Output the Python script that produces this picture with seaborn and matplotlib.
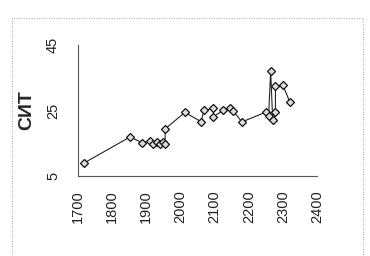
import pandas as pd
import seaborn as sns
import matplotlib.pyplot as plt
from matplotlib.patches import Rectangle

# ---------- data ----------
years = [1718, 1852, 1887, 1911, 1920, 1931, 1940, 1950, 1955, 1955,
         2013, 2060, 2069, 2096, 2096, 2125, 2146, 2155, 2180,
         2250, 2258, 2264, 2270, 2278, 2278, 2300, 2320]
cit = [9.0, 16.9, 15.2, 15.7, 14.8, 15.4, 14.8, 15.4, 14.8, 19.4,
       24.4, 21.6, 25.0, 25.6, 23.1, 25.0, 25.6, 24.7, 21.5,
       24.5, 23.3, 37.0, 22.0, 24.5, 32.5, 32.7, 27.6]
xticks = [1700, 1800, 1900, 2000, 2100, 2200, 2300, 2400]
yticks = [5, 25, 45]

df = pd.DataFrame({'year': years, 'cit': cit})

sns.set_theme(style='white')
plt.rcParams['font.family'] = ['Liberation Sans', 'DejaVu Sans']

fig = plt.figure(figsize=(3.7, 2.56), dpi=100)
ax = fig.add_axes([0.211, 0.3125, 0.646, 0.512])

sns.lineplot(data=df, x='year', y='cit', sort=False, estimator=None,
             color='#222222', linewidth=0.8, marker='D', markersize=4.5,
             markerfacecolor='#dddddd', markeredgecolor='#111111',
             markeredgewidth=0.9, ax=ax)

ax.set_xlim(1700, 2400)
ax.set_ylim(5, 45)
ax.set_xticks(xticks)
ax.set_yticks(yticks)
ax.set_xticklabels([str(t) for t in xticks], rotation=90, fontsize=10.5)
ax.set_yticklabels([str(t) for t in yticks], rotation=90, fontsize=10.5, va='center')
ax.tick_params(axis='x', length=0, pad=10, colors='#222222')
ax.tick_params(axis='y', length=0, pad=13, colors='#222222')
ax.set_xlabel('')
ax.set_ylabel('СИТ', fontsize=14, fontweight='bold', labelpad=8)

for side in ['top', 'right']:
    ax.spines[side].set_visible(False)
for side in ['left', 'bottom']:
    ax.spines[side].set_color('#555555')
    ax.spines[side].set_linewidth(0.8)
    ax.spines[side].set_linestyle((0, (2, 1)))

# dotted frame of the scanned figure
fig.patches.append(Rectangle((0.032, -0.02), 0.948, 0.95, transform=fig.transFigure,
                             fill=False, edgecolor='#888888', linewidth=0.6,
                             linestyle=(0, (1, 2))))

fig.savefig('out.png', dpi=100)
